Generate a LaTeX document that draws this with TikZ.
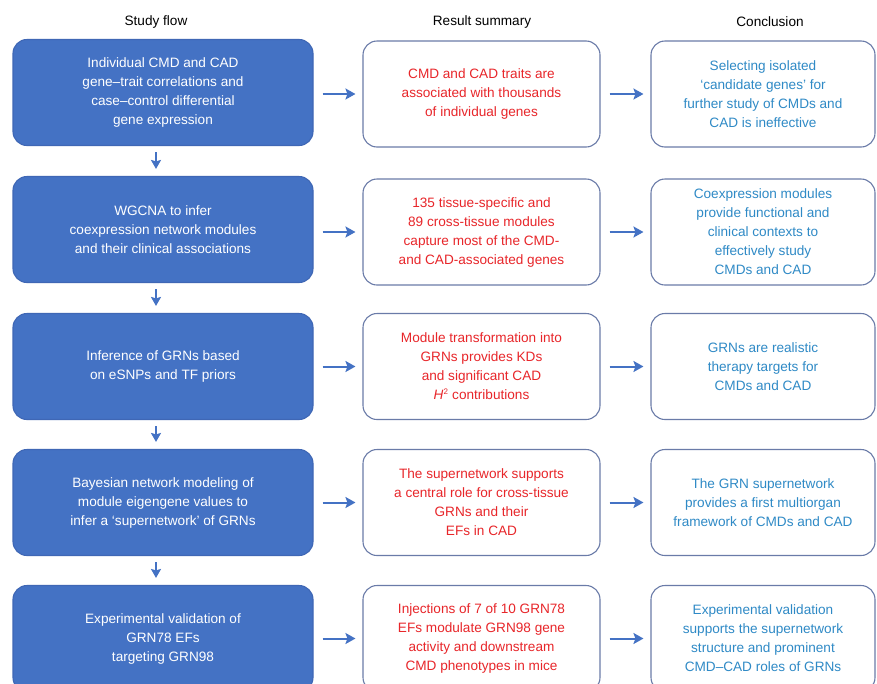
\documentclass[tikz,border=0pt]{standalone}
\usepackage{fontspec}
\setmainfont{Liberation Sans}
\usetikzlibrary{arrows.meta}
\definecolor{flowblue}{HTML}{4472C4}
\definecolor{flowedge}{HTML}{3F67B5}
\definecolor{boxedge}{HTML}{6A7BA8}
\definecolor{redtxt}{HTML}{E8262A}
\definecolor{bluetxt}{HTML}{2F8AC6}
\definecolor{arrowblue}{HTML}{4472C4}
\begin{document}
\begin{tikzpicture}[x=1pt,y=-1pt,
  base/.style={rounded corners=14pt, line width=1.1pt, align=center, inner sep=0pt,
    minimum height=106pt, font=\fontsize{13.6}{19}\selectfont},
  flow/.style={base, fill=flowblue, draw=flowedge, text=white, minimum width=300pt},
  result/.style={base, fill=white, draw=boxedge, text=redtxt, minimum width=237pt},
  concl/.style={base, fill=white, draw=boxedge, text=bluetxt, minimum width=224pt},
  header/.style={font=\fontsize{13.6}{16}\selectfont, text=black},
  harr/.style={draw=arrowblue, line width=2pt, -{Stealth[length=10pt,width=11pt,inset=2pt]}, shorten <=9pt, shorten >=7pt},
  varr/.style={draw=arrowblue, line width=1.8pt, -{Stealth[length=9pt,width=10pt,inset=1.5pt]}, shorten <=6pt, shorten >=7pt}
]
\useasboundingbox (0,0) rectangle (877,683);
\fill[white] (0,0) rectangle (877,683);

\node[header] (h1) at (156,22) {Study flow};
\node[header] (h2) at (482,22) {Result summary};
\node[header] (h3) at (770,22) {Conclusion};

% Row 1
\node[flow] (a1) at (163,92.5) {Individual CMD and CAD\\gene--trait correlations and\\case--control differential\\gene expression};
\node[result] (b1) at (481.5,94) {CMD and CAD traits are\\associated with thousands\\of individual genes};
\node[concl] (c1) at (763,94) {Selecting isolated\\`candidate genes' for\\further study of CMDs and\\CAD is ineffective};

% Row 2
\node[flow] (a2) at (163,229.5) {WGCNA to infer\\coexpression network modules\\and their clinical associations};
\node[result] (b2) at (481.5,232) {135 tissue-specific and\\89 cross-tissue modules\\capture most of the CMD-\\and CAD-associated genes};
\node[concl] (c2) at (763,232) {Coexpression modules\\provide functional and\\clinical contexts to\\effectively study\\CMDs and CAD};

% Row 3
\node[flow] (a3) at (163,366.5) {Inference of GRNs based\\on eSNPs and TF priors};
\node[result] (b3) at (481.5,366.5) {Module transformation into\\GRNs provides KDs\\and significant CAD\\\textit{H}\textsuperscript{\fontsize{8}{8}\selectfont 2} contributions};
\node[concl] (c3) at (763,366.5) {GRNs are realistic\\therapy targets for\\CMDs and CAD};

% Row 4
\node[flow] (a4) at (163,502.5) {Bayesian network modeling of\\module eigengene values to\\infer a `supernetwork' of GRNs};
\node[result] (b4) at (481.5,502.5) {The supernetwork supports\\a central role for cross-tissue\\GRNs and their\\EFs in CAD};
\node[concl] (c4) at (763,502.5) {The GRN supernetwork\\provides a first multiorgan\\framework of CMDs and CAD};

% Row 5
\node[flow] (a5) at (163,638.5) {Experimental validation of\\GRN78 EFs\\targeting GRN98};
\node[result] (b5) at (481.5,638.5) {Injections of 7 of 10 GRN78\\EFs modulate GRN98 gene\\activity and downstream\\CMD phenotypes in mice};
\node[concl] (c5) at (763,638.5) {Experimental validation\\supports the supernetwork\\structure and prominent\\CMD--CAD roles of GRNs};

% horizontal arrows
\foreach \r in {1,...,5} {
  \draw[harr] (a\r.east |- b\r.center) -- (b\r.west);
  \draw[harr] (b\r.east) -- (c\r.west);
}
% vertical arrows
\foreach \r/\s in {1/2,2/3,3/4,4/5} {
  \draw[varr] ([xshift=-7pt]a\r.south) -- ([xshift=-7pt]a\s.north);
}
\end{tikzpicture}
\end{document}
